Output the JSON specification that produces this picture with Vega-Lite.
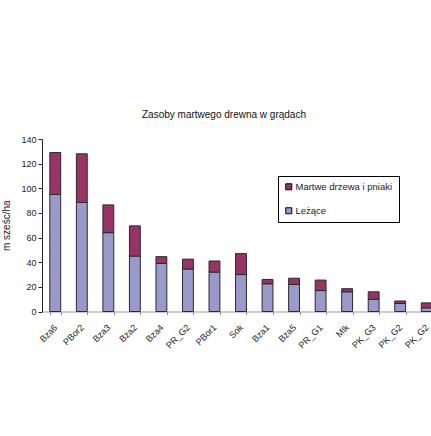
{
  "$schema": "https://vega.github.io/schema/vega-lite/v6.json",
  "autosize": "none",
  "padding": {"left": 42, "top": 139, "right": -9, "bottom": 124.5},
  "width": 398,
  "height": 172.5,
  "background": "white",
  "title": {
    "text": "Zasoby martwego drewna w grądach",
    "font": "Liberation Sans",
    "fontSize": 10,
    "fontWeight": "normal",
    "color": "#111",
    "anchor": "middle",
    "dx": -17,
    "offset": 15
  },
  "data": {
    "values": [
      {"site": "Bza6", "typ": "Leżące", "m3": 95},
      {"site": "Bza6", "typ": "Martwe drzewa i pniaki", "m3": 34},
      {"site": "PBor2", "typ": "Leżące", "m3": 88.5},
      {"site": "PBor2", "typ": "Martwe drzewa i pniaki", "m3": 39.5},
      {"site": "Bza3", "typ": "Leżące", "m3": 64},
      {"site": "Bza3", "typ": "Martwe drzewa i pniaki", "m3": 22.5},
      {"site": "Bza2", "typ": "Leżące", "m3": 45},
      {"site": "Bza2", "typ": "Martwe drzewa i pniaki", "m3": 24.5},
      {"site": "Bza4", "typ": "Leżące", "m3": 39},
      {"site": "Bza4", "typ": "Martwe drzewa i pniaki", "m3": 5.5},
      {"site": "PR_G2", "typ": "Leżące", "m3": 34.5},
      {"site": "PR_G2", "typ": "Martwe drzewa i pniaki", "m3": 8},
      {"site": "PBor1", "typ": "Leżące", "m3": 32},
      {"site": "PBor1", "typ": "Martwe drzewa i pniaki", "m3": 9},
      {"site": "Sok", "typ": "Leżące", "m3": 30},
      {"site": "Sok", "typ": "Martwe drzewa i pniaki", "m3": 17},
      {"site": "Bza1", "typ": "Leżące", "m3": 22.5},
      {"site": "Bza1", "typ": "Martwe drzewa i pniaki", "m3": 3.5},
      {"site": "Bza5", "typ": "Leżące", "m3": 22},
      {"site": "Bza5", "typ": "Martwe drzewa i pniaki", "m3": 5},
      {"site": "PR_G1", "typ": "Leżące", "m3": 17},
      {"site": "PR_G1", "typ": "Martwe drzewa i pniaki", "m3": 8.5},
      {"site": "Mlk", "typ": "Leżące", "m3": 16},
      {"site": "Mlk", "typ": "Martwe drzewa i pniaki", "m3": 2.5},
      {"site": "PK_G3", "typ": "Leżące", "m3": 10},
      {"site": "PK_G3", "typ": "Martwe drzewa i pniaki", "m3": 6},
      {"site": "PK_G2", "typ": "Leżące", "m3": 6.5},
      {"site": "PK_G2", "typ": "Martwe drzewa i pniaki", "m3": 2},
      {"site": "PK_G2#2", "typ": "Leżące", "m3": 3},
      {"site": "PK_G2#2", "typ": "Martwe drzewa i pniaki", "m3": 4}
    ]
  },
  "mark": {"type": "bar", "stroke": "#2a2a2a", "strokeWidth": 1},
  "encoding": {
    "x": {
      "field": "site",
      "type": "nominal",
      "sort": null,
      "scale": {"paddingInner": 0.59, "paddingOuter": 0.295},
      "axis": {
        "title": null,
        "labelExpr": "isString(datum.value) ? split(datum.value, '#')[0] : ''",
        "labelAngle": -45,
        "labelAlign": "right",
        "labelBaseline": "middle",
        "labelPadding": 11,
        "labelFont": "Liberation Sans",
        "labelFontSize": 9,
        "labelColor": "#222",
        "tickBand": "extent",
        "tickSize": 3,
        "tickColor": "#888",
        "domainColor": "#999",
        "grid": false
      }
    },
    "y": {
      "field": "m3",
      "type": "quantitative",
      "stack": "zero",
      "scale": {"domain": [0, 140], "nice": false},
      "axis": {
        "title": "m sześc/ha",
        "titleFont": "Liberation Sans",
        "titleFontSize": 10,
        "titleFontWeight": "normal",
        "titleColor": "#222",
        "titlePadding": 9,
        "values": [0, 20, 40, 60, 80, 100, 120, 140],
        "labelFont": "Liberation Sans",
        "labelFontSize": 9,
        "labelColor": "#222",
        "labelPadding": 2,
        "tickSize": 4,
        "tickColor": "#222",
        "domainColor": "#222",
        "grid": false
      }
    },
    "color": {
      "field": "typ",
      "type": "nominal",
      "scale": {
        "domain": ["Martwe drzewa i pniaki", "Leżące"],
        "range": ["#993366", "#9999cc"]
      },
      "legend": {
        "title": null,
        "orient": "none",
        "legendX": 236,
        "legendY": 37,
        "direction": "vertical",
        "strokeColor": "#000",
        "fillColor": "white",
        "padding": 6,
        "rowPadding": 13,
        "symbolType": "square",
        "symbolSize": 36,
        "symbolStrokeColor": "#000",
        "symbolStrokeWidth": 1,
        "symbolOpacity": 1,
        "labelFont": "Liberation Sans",
        "labelFontSize": 9.5,
        "labelColor": "#222",
        "labelOffset": 2
      }
    },
    "order": {"field": "typ", "sort": "ascending"}
  },
  "config": {
    "view": {"stroke": null}
  }
}
